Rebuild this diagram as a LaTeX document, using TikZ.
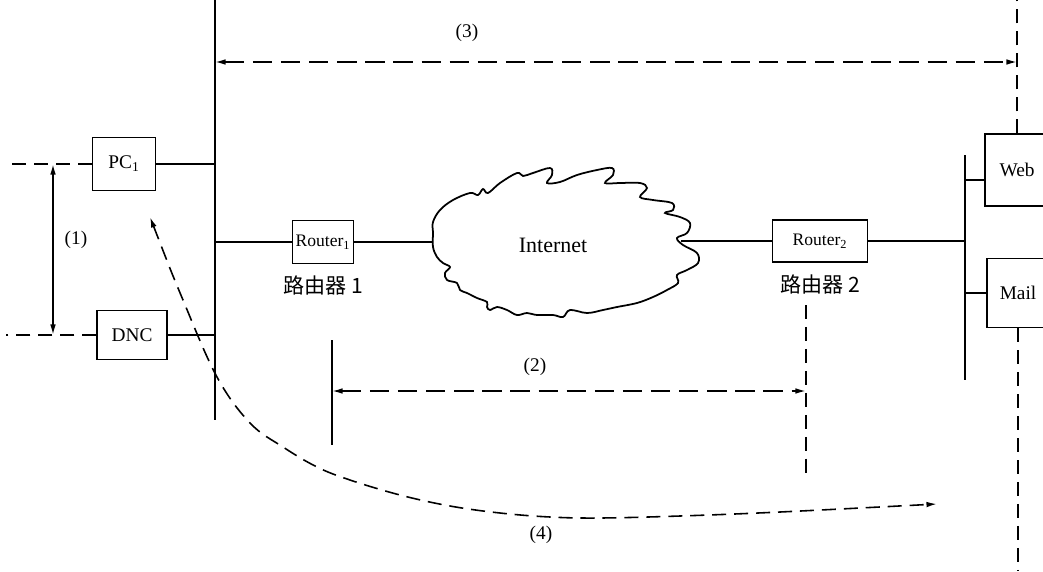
\documentclass[tikz,border=0pt]{standalone}
\usepackage{fontspec}
\setmainfont{Liberation Serif}
\newfontfamily\cjk{Noto Sans CJK SC}
\usetikzlibrary{arrows.meta, positioning, calc}

\begin{document}
\begin{tikzpicture}[x=0.02cm, y=-0.02cm,
  % riquadri e linee
  box/.style={draw,line width=0.9pt,inner sep=1pt,font=\fontsize{11}{13}\selectfont, align=center},
  rbox/.style={box,font=\fontsize{10}{12}\selectfont},
  lbl/.style={font=\fontsize{11}{13}\selectfont},
  cn/.style={font=\cjk\fontsize{12}{14}\selectfont},
  ln/.style={line width=0.9pt},
  dlong/.style={line width=0.9pt,dash pattern=on 11pt off 5pt},
  dshort/.style={line width=0.9pt,dash pattern=on 8pt off 4.5pt},
  >={Latex[length=6pt,width=3.2pt]}]
  \path[use as bounding box,clip] (0,0) rectangle (1043,571);

  \coordinate (busT) at (215,0);
  \coordinate (busB) at (215,420);
  \coordinate (lft) at (6,0);
  \coordinate (onex) at (53,0);
  \coordinate (bot) at (0,571);
  \draw[ln](busT)--(busB);

  \node[box,minimum width=1.26cm,minimum height=1.06cm](pc) at (124,164){PC\textsubscript{1}};
  \node[box,minimum width=1.4cm,minimum height=0.98cm](dnc) at (132,335){DNC};
  \draw[ln](pc.east)--(pc.east -| busT);
  \draw[ln](dnc.east)--(dnc.east -| busT);
  \draw[dshort](pc.west)--(pc.west -| lft);
  \draw[dshort](dnc.west)--(dnc.west -| lft);
  \draw[ln,<->](pc.west -| onex)--(dnc.west -| onex);
  \node[lbl](l1) at (76,240){(1)};

  \node[rbox,minimum width=1.22cm,minimum height=0.86cm](r1) at (323,242){Router\textsubscript{1}};
  \node[cn,below=3pt of r1](r1n){路由器 1};
  \draw[ln](r1.west -| busT)--(r1.west);

  % nuvola Internet
  \draw[line width=1pt] plot[smooth cycle,tension=0.6] coordinates {
    (433,222) (440,210) (453,200) (470,193) (478,195) (483,189) (488,193)
    (500,183) (517,173) (523,176) (533,173) (550,168) (552,175) (547,183)
    (560,182) (577,175) (597,170) (612,168) (613,175) (605,183) (620,183)
    (640,183) (647,188) (640,197) (653,200) (672,203) (673,210) (665,213)
    (680,217) (690,223) (687,233) (677,238) (683,245) (697,253) (698,263)
    (687,270) (677,275) (678,283) (667,290) (653,297) (637,303) (617,307)
    (603,310) (587,313) (570,310) (563,317) (553,315) (537,315) (527,313)
    (517,315) (507,310) (497,307) (490,310) (487,307) (487,302) (477,298)
    (467,293) (460,290) (457,283) (447,280) (445,273) (450,267) (443,263)
    (437,257) (433,247) (433,233)};
  \node[font=\fontsize{12.5}{14}\selectfont](inet) at (553,245){Internet};
  \coordinate (cloudW) at (433,242);
  \coordinate (cloudE) at (681,241);
  \draw[ln](r1.east)--(cloudW);

  \node[rbox,minimum width=1.9cm,minimum height=0.84cm](r2) at (820,241){Router\textsubscript{2}};
  \node[cn,below=3pt of r2](r2n){路由器 2};
  \draw[ln](cloudE)--(r2.west);

  % LAN a destra
  \coordinate (rbusT) at (965,155);
  \coordinate (rbusB) at (965,380);
  \draw[ln](rbusT)--(rbusB);
  \draw[ln](r2.east)--(r2.east -| rbusT);
  \node[box,minimum width=1.28cm,minimum height=1.44cm](web) at (1017,170){Web};
  \node[box,minimum width=1.24cm,minimum height=1.38cm](mail) at (1018,293){Mail};
  \coordinate (webtap) at ($(web.west)+(0,10)$);
  \draw[ln](webtap)--(webtap -| rbusT);
  \draw[ln](mail.west)--(mail.west -| rbusT);
  \draw[dshort](web.north)--(web.north |- busT);
  \draw[dshort](mail.south)--(mail.south |- bot);

  % (3)
  \coordinate (y3) at (0,62);
  \draw[dlong,<->](busT |- y3)--(web.north |- y3);
  \node[lbl](l3) at (467,33){(3)};

  % (2)
  \coordinate (twoL) at (332,391);
  \coordinate (twoR) at (806,391);
  \draw[ln](332,340)--(332,445);
  \draw[dshort](806,305)--(806,477);
  \draw[dlong,<->](twoL)--(twoR);
  \node[lbl](l2) at (535,367){(2)};

  % (4)
  \coordinate (fourS) at (150,217);
  \coordinate (fourE) at (937,504);
  \draw[dshort,<->] plot[smooth,tension=0.6] coordinates {
    (fourS) (183,300) (217,377) (250,423) (283,447) (317,467) (350,480)
    (400,495) (450,506) (500,513) (550,517) (600,518) (680,516) (780,512) (fourE)};
  \node[lbl](l4) at (541,535){(4)};
\end{tikzpicture}
\end{document}
